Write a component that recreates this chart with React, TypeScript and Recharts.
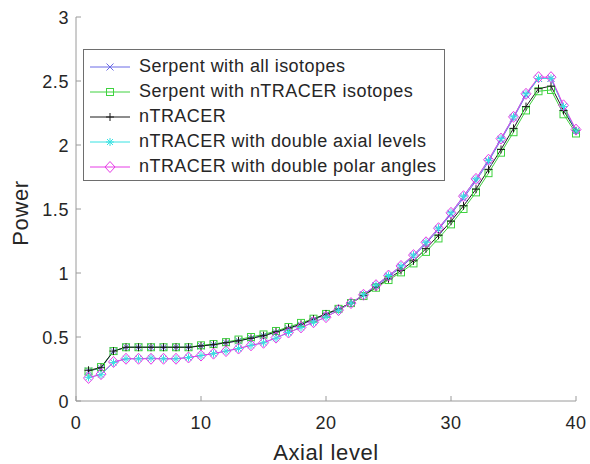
import * as React from 'react';
import { LineChart, Line, XAxis, YAxis, Legend, Label } from 'recharts';

const LEVELS = [1, 2, 3, 4, 5, 6, 7, 8, 9, 10, 11, 12, 13, 14, 15, 16, 17, 18, 19, 20,
  21, 22, 23, 24, 25, 26, 27, 28, 29, 30, 31, 32, 33, 34, 35, 36, 37, 38, 39, 40];

const SERPENT_ALL = [0.235, 0.255, 0.39, 0.42, 0.42, 0.42, 0.42, 0.42, 0.42, 0.43,
  0.44, 0.455, 0.47, 0.49, 0.51, 0.535, 0.565, 0.595, 0.635, 0.675,
  0.715, 0.765, 0.83, 0.9, 0.97, 1.045, 1.13, 1.23, 1.34, 1.46,
  1.585, 1.72, 1.87, 2.04, 2.21, 2.39, 2.52, 2.52, 2.3, 2.11];

const SERPENT_NT = [0.23, 0.265, 0.39, 0.42, 0.42, 0.42, 0.42, 0.42, 0.42, 0.435,
  0.445, 0.46, 0.48, 0.5, 0.52, 0.547, 0.578, 0.61, 0.643, 0.68,
  0.72, 0.765, 0.82, 0.885, 0.945, 1.005, 1.075, 1.165, 1.27, 1.38,
  1.5, 1.63, 1.78, 1.94, 2.1, 2.27, 2.42, 2.43, 2.24, 2.09];

const NTRACER = [0.24, 0.26, 0.39, 0.42, 0.42, 0.42, 0.42, 0.42, 0.42, 0.43,
  0.44, 0.455, 0.47, 0.49, 0.51, 0.54, 0.57, 0.6, 0.64, 0.68,
  0.72, 0.765, 0.825, 0.89, 0.955, 1.02, 1.095, 1.19, 1.295, 1.405,
  1.525, 1.655, 1.81, 1.965, 2.13, 2.3, 2.44, 2.46, 2.27, 2.11];

const NT_AXIAL = [0.185, 0.205, 0.3, 0.33, 0.33, 0.335, 0.33, 0.33, 0.34, 0.355,
  0.37, 0.39, 0.41, 0.435, 0.455, 0.49, 0.535, 0.575, 0.615, 0.655,
  0.71, 0.765, 0.83, 0.905, 0.98, 1.055, 1.14, 1.24, 1.35, 1.47,
  1.6, 1.735, 1.88, 2.05, 2.22, 2.4, 2.52, 2.52, 2.3, 2.11];

const NT_POLAR = [0.18, 0.21, 0.305, 0.33, 0.33, 0.33, 0.33, 0.33, 0.34, 0.355,
  0.37, 0.39, 0.41, 0.435, 0.455, 0.495, 0.535, 0.575, 0.615, 0.655,
  0.71, 0.765, 0.83, 0.905, 0.98, 1.055, 1.14, 1.24, 1.35, 1.47,
  1.6, 1.735, 1.885, 2.05, 2.22, 2.4, 2.53, 2.53, 2.31, 2.12];

const X_TICKS = [0, 10, 20, 30, 40];
const Y_TICKS = [0, 0.5, 1, 1.5, 2, 2.5, 3];

const FONT = '"Liberation Sans", Arial, Helvetica, sans-serif';
const TEXT = '#262626';
const AXIS = '#9a9a9a';

type Shape = 'x' | 'square' | 'plus' | 'star' | 'diamond';

const SERIES: { key: string; name: string; color: string; shape: Shape }[] = [
  { key: 'serpentAll', name: 'Serpent with all isotopes', color: '#6a6ae6', shape: 'x' },
  { key: 'serpentNt', name: 'Serpent with nTRACER isotopes', color: '#3fd23f', shape: 'square' },
  { key: 'ntracer', name: 'nTRACER', color: '#1a1a1a', shape: 'plus' },
  { key: 'ntAxial', name: 'nTRACER with double axial levels', color: '#36e2e2', shape: 'star' },
  { key: 'ntPolar', name: 'nTRACER with double polar angles', color: '#e63ce6', shape: 'diamond' },
];

const rows = LEVELS.map((level, i) => ({
  level,
  serpentAll: SERPENT_ALL[i],
  serpentNt: SERPENT_NT[i],
  ntracer: NTRACER[i],
  ntAxial: NT_AXIAL[i],
  ntPolar: NT_POLAR[i],
}));

function Marker({ shape, cx, cy, color }: { shape: Shape; cx: number; cy: number; color: string }) {
  const p = { stroke: color, strokeWidth: 1, fill: 'none' };
  if (shape === 'x') {
    return (
      <g {...p}>
        <line x1={cx - 3.5} y1={cy - 3.5} x2={cx + 3.5} y2={cy + 3.5} />
        <line x1={cx - 3.5} y1={cy + 3.5} x2={cx + 3.5} y2={cy - 3.5} />
      </g>
    );
  }
  if (shape === 'square') {
    return <rect x={cx - 3.5} y={cy - 3.5} width={7} height={7} {...p} />;
  }
  if (shape === 'plus') {
    return (
      <g {...p}>
        <line x1={cx - 4} y1={cy} x2={cx + 4} y2={cy} />
        <line x1={cx} y1={cy - 4} x2={cx} y2={cy + 4} />
      </g>
    );
  }
  if (shape === 'star') {
    return (
      <g {...p}>
        <line x1={cx - 4} y1={cy} x2={cx + 4} y2={cy} />
        <line x1={cx} y1={cy - 4} x2={cx} y2={cy + 4} />
        <line x1={cx - 3} y1={cy - 3} x2={cx + 3} y2={cy + 3} />
        <line x1={cx - 3} y1={cy + 3} x2={cx + 3} y2={cy - 3} />
      </g>
    );
  }
  return (
    <polygon
      points={`${cx - 5},${cy} ${cx},${cy - 5.5} ${cx + 5},${cy} ${cx},${cy + 5.5}`}
      {...p}
    />
  );
}

const makeDot = (shape: Shape, color: string) => (props: any) => (
  <Marker key={`${shape}-${props.index}`} shape={shape} cx={props.cx} cy={props.cy} color={color} />
);

const BottomTick = (props: any) => {
  const { x, y, payload } = props;
  return (
    <g>
      <line x1={x} x2={x} y1={y} y2={y - 5} stroke={AXIS} />
      <text x={x} y={y + 28} textAnchor="middle" fill={TEXT} fontSize={18} letterSpacing={0.6} fontFamily={FONT}>
        {payload.value}
      </text>
    </g>
  );
};

const TopTick = (props: any) => {
  const { x, y } = props;
  return <line x1={x} x2={x} y1={y} y2={y + 5} stroke={AXIS} />;
};

const LeftTick = (props: any) => {
  const { x, y, payload } = props;
  return (
    <g>
      <line x1={x} x2={x + 5} y1={y} y2={y} stroke={AXIS} />
      <text x={x - 7} y={y + 6.5} textAnchor="end" fill={TEXT} fontSize={18} letterSpacing={0.6} fontFamily={FONT}>
        {payload.value}
      </text>
    </g>
  );
};

const RightTick = (props: any) => {
  const { x, y } = props;
  return <line x1={x} x2={x - 5} y1={y} y2={y} stroke={AXIS} />;
};

const LegendBox = () => (
  <div
    style={{
      border: '1px solid #6e6e6e',
      background: '#fff',
      width: 360,
      height: 126,
      paddingTop: 4,
      boxSizing: 'content-box',
      fontFamily: FONT,
      fontSize: 18,
      color: TEXT,
    }}
  >
    {SERIES.map((s) => (
      <div key={s.key} style={{ display: 'flex', alignItems: 'center', height: 25 }}>
        <svg width={50} height={20} style={{ display: 'block' }}>
          <line x1={6} x2={46} y1={10} y2={10} stroke={s.color} strokeWidth={1} />
          <Marker shape={s.shape} cx={26} cy={10} color={s.color} />
        </svg>
        <span style={{ marginLeft: 5, whiteSpace: 'nowrap', letterSpacing: 0.45 }}>{s.name}</span>
      </div>
    ))}
  </div>
);

export default function App() {
  return (
    <div style={{ position: 'absolute', left: 0, top: 0, width: 590, height: 464, background: '#fff' }}>
      <LineChart width={590} height={464} data={rows} margin={{ top: 17, right: 14, left: 0, bottom: 0 }}>
        <XAxis
          dataKey="level"
          type="number"
          domain={[0, 40]}
          ticks={X_TICKS}
          height={63}
          tickSize={0}
          tickMargin={0}
          tick={BottomTick}
          axisLine={{ stroke: AXIS }}
          interval={0}
        >
          <Label
            content={(p: any) => {
              const vb = p.viewBox;
              return (
                <text x={vb.x + vb.width / 2} y={vb.y + 59} textAnchor="middle" fill={TEXT} fontSize={22} letterSpacing={0.6} fontFamily={FONT}>
                  Axial level
                </text>
              );
            }}
          />
        </XAxis>
        <XAxis
          xAxisId="top"
          orientation="top"
          dataKey="level"
          type="number"
          domain={[0, 40]}
          ticks={X_TICKS}
          height={0}
          tickSize={0}
          tickMargin={0}
          tick={TopTick}
          axisLine={{ stroke: AXIS }}
          interval={0}
        />
        <YAxis
          type="number"
          domain={[0, 3]}
          ticks={Y_TICKS}
          width={76}
          tickSize={0}
          tickMargin={0}
          tick={LeftTick}
          axisLine={{ stroke: AXIS }}
          interval={0}
        >
          <Label
            content={(p: any) => {
              const vb = p.viewBox;
              const cx = 20;
              const cy = vb.y + vb.height / 2 + 4;
              return (
                <text
                  x={cx}
                  y={cy}
                  transform={`rotate(-90 ${cx} ${cy})`}
                  textAnchor="middle"
                  dominantBaseline="central"
                  fill={TEXT}
                  fontSize={22}
                  letterSpacing={0.6}
                  fontFamily={FONT}
                >
                  Power
                </text>
              );
            }}
          />
        </YAxis>
        <YAxis
          yAxisId="right"
          orientation="right"
          type="number"
          domain={[0, 3]}
          ticks={Y_TICKS}
          width={0}
          tickSize={0}
          tickMargin={0}
          tick={RightTick}
          axisLine={{ stroke: AXIS }}
          interval={0}
        />
        <Legend
          layout="vertical"
          align="center"
          verticalAlign="middle"
          wrapperStyle={{ left: 83, top: 49, width: 362, height: 130 }}
          content={LegendBox}
        />
        {SERIES.map((s) => (
          <Line
            key={s.key}
            dataKey={s.key}
            name={s.name}
            stroke={s.color}
            strokeWidth={1}
            dot={makeDot(s.shape, s.color)}
            activeDot={false}
            isAnimationActive={false}
          />
        ))}
      </LineChart>
    </div>
  );
}
